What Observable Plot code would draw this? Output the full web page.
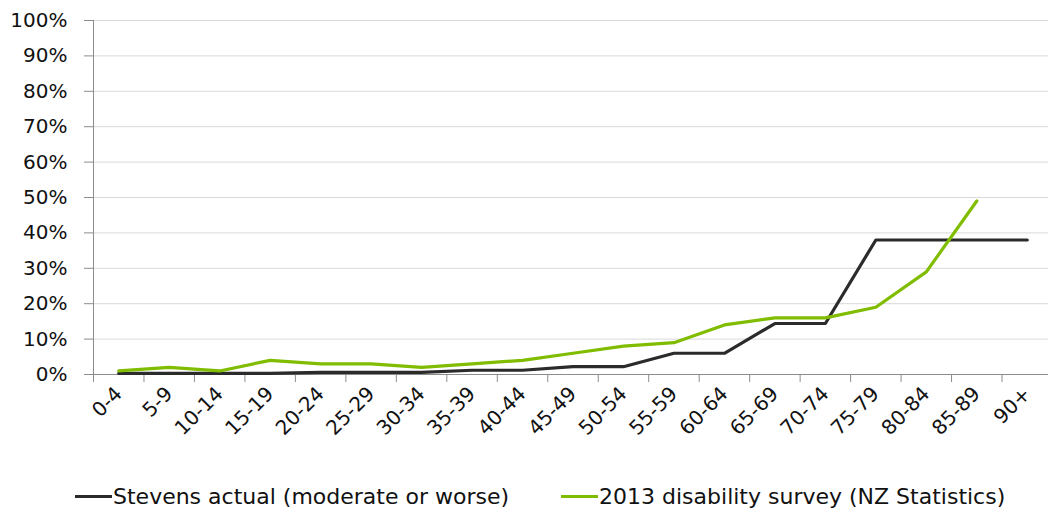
<!DOCTYPE html>
<html><head><meta charset="utf-8">
<script src="https://cdn.jsdelivr.net/npm/d3@7"></script>
<script src="https://cdn.jsdelivr.net/npm/@observablehq/plot@0.6"></script>
<style>
body{margin:0;background:#fff;font-family:"DejaVu Sans",sans-serif;overflow:hidden;}
#legend{display:flex;gap:52px;margin-left:75px;margin-top:12px;font-size:22px;color:#111;align-items:center;}
.item{display:flex;align-items:center;}
.sw{display:inline-block;width:37px;height:3px;margin-right:1px;}
</style></head><body>
<div id="chart"></div>
<div id="legend"></div>
<script>
const categories = ["0-4","5-9","10-14","15-19","20-24","25-29","30-34","35-39","40-44","45-49","50-54","55-59","60-64","65-69","70-74","75-79","80-84","85-89","90+"];
const stevens = [0.3,0.3,0.3,0.3,0.6,0.6,0.6,1.2,1.2,2.2,2.2,6,6,14.4,14.4,38,38,38,38];
const survey = [1,2,1,4,3,3,2,3,4,6,8,9,14,16,16,19,29,49,null];
const yTicks = [0,0.1,0.2,0.3,0.4,0.5,0.6,0.7,0.8,0.9,1];
const seriesNames = ["Stevens actual (moderate or worse)","2013 disability survey (NZ Statistics)"];
const colors = ["#2b2b2b","#80bd00"];

const data = [];
categories.forEach((c,i)=>{
  data.push({i, s:seriesNames[0], v:stevens[i]/100});
  if (survey[i]!=null) data.push({i, s:seriesNames[1], v:survey[i]/100});
});
const bounds = d3.range(categories.length+1).map(k=>k-0.5);

const plot = Plot.plot({
  width:1048, height:472,
  marginLeft:93, marginRight:-4, marginTop:20, marginBottom:98,
  style:{fontFamily:"'DejaVu Sans', sans-serif", fontSize:"20px", color:"#111", overflow:"hidden"},
  x:{domain:[-0.5, categories.length-0.5], label:null},
  y:{domain:[0,1], label:null},
  color:{domain:seriesNames, range:colors},
  marks:[
    Plot.gridY(yTicks,{stroke:"#d9d9d9", strokeOpacity:1, strokeWidth:1}),
    Plot.ruleX([-0.5],{stroke:"#8c8c8c"}),
    Plot.ruleY([0],{stroke:"#8c8c8c"}),
    Plot.axisY(yTicks,{tickFormat:d=>Math.round(d*100)+"%", tickSize:9, tickPadding:17, stroke:"#8c8c8c", fontSize:20, fill:"#111", label:null}),
    Plot.axisX(bounds,{tickFormat:()=>"", tickSize:8, stroke:"#8c8c8c", label:null}),
    Plot.axisX(d3.range(categories.length),{tickFormat:i=>categories[i], tickSize:0, tickPadding:16, tickRotate:-45, fontSize:20, fill:"#111", label:null}),
    Plot.line(data,{x:"i", y:"v", stroke:"s", z:"s", strokeWidth:3.2, strokeLinejoin:"round", strokeLinecap:"round"})
  ]
});
document.getElementById("chart").appendChild(plot);
const lg = document.getElementById("legend");
seriesNames.forEach((n,k)=>{
  const it=document.createElement("div"); it.className="item";
  it.innerHTML=`<span class="sw" style="background:${colors[k]}"></span><span>${n}</span>`;
  lg.appendChild(it);
});
</script>
</body></html>
